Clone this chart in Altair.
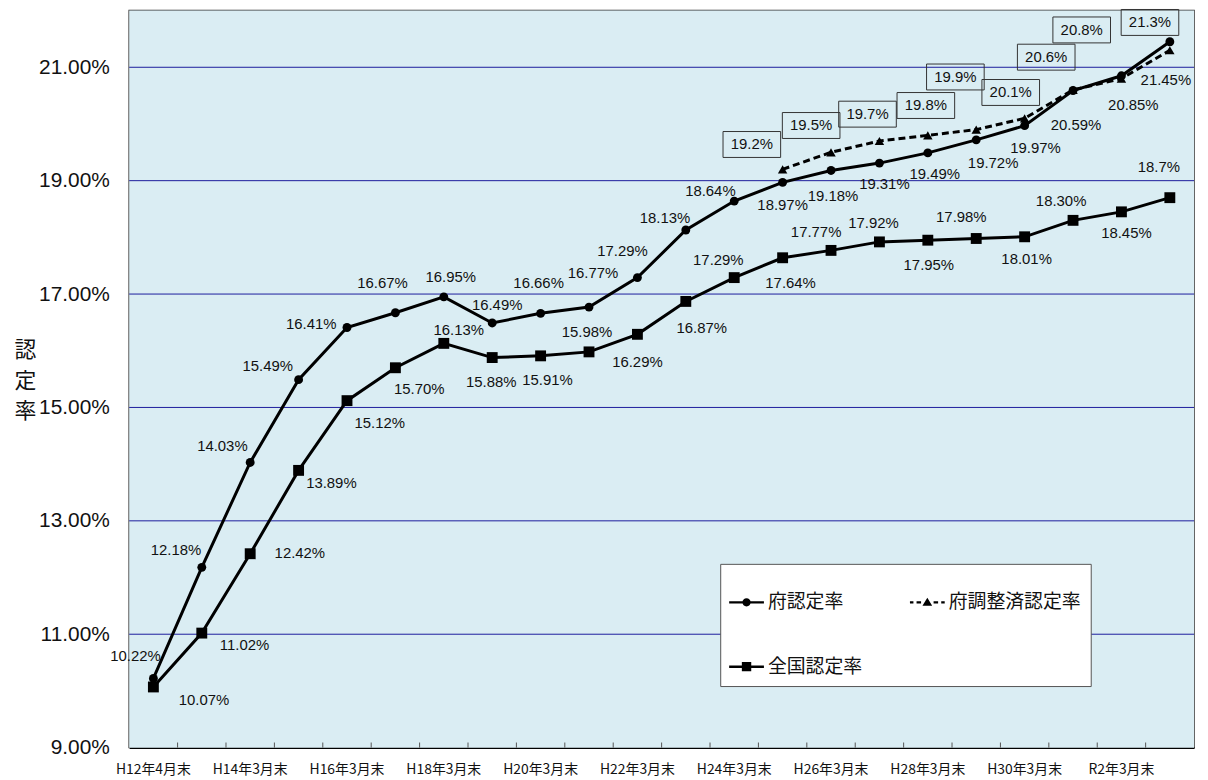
import altair as alt
import pandas as pd

# ---------------- data ----------------
categories = [
    "H12年4月末", "H13年3月末", "H14年3月末", "H15年3月末", "H16年3月末",
    "H17年3月末", "H18年3月末", "H19年3月末", "H20年3月末", "H21年3月末",
    "H22年3月末", "H23年3月末", "H24年3月末", "H25年3月末", "H26年3月末",
    "H27年3月末", "H28年3月末", "H29年3月末", "H30年3月末", "H31年3月末",
    "R2年3月末", "R3年3月末",
]
shown_labels = [
    "H12年4月末", "H14年3月末", "H16年3月末", "H18年3月末", "H20年3月末",
    "H22年3月末", "H24年3月末", "H26年3月末", "H28年3月末", "H30年3月末",
    "R2年3月末",
]
fu_rate = [10.22, 12.18, 14.03, 15.49, 16.41, 16.67, 16.95, 16.49, 16.66, 16.77,
           17.29, 18.13, 18.64, 18.97, 19.18, 19.31, 19.49, 19.72, 19.97, 20.59,
           20.85, 21.45]
fu_text = ["10.22%", "12.18%", "14.03%", "15.49%", "16.41%", "16.67%", "16.95%",
           "16.49%", "16.66%", "16.77%", "17.29%", "18.13%", "18.64%", "18.97%",
           "19.18%", "19.31%", "19.49%", "19.72%", "19.97%", "20.59%", "20.85%",
           "21.45%"]
zenkoku_rate = [10.07, 11.02, 12.42, 13.89, 15.12, 15.70, 16.13, 15.88, 15.91, 15.98,
                16.29, 16.87, 17.29, 17.64, 17.77, 17.92, 17.95, 17.98, 18.01, 18.30,
                18.45, 18.70]
zenkoku_text = ["10.07%", "11.02%", "12.42%", "13.89%", "15.12%", "15.70%", "16.13%",
                "15.88%", "15.91%", "15.98%", "16.29%", "16.87%", "17.29%", "17.64%",
                "17.77%", "17.92%", "17.95%", "17.98%", "18.01%", "18.30%", "18.45%",
                "18.7%"]
adj_categories = ["H25年3月末", "H26年3月末", "H27年3月末", "H28年3月末", "H29年3月末",
                  "H30年3月末", "H31年3月末", "R2年3月末", "R3年3月末"]
adj_rate = [19.2, 19.5, 19.7, 19.8, 19.9, 20.1, 20.6, 20.8, 21.3]
adj_text = ["19.2%", "19.5%", "19.7%", "19.8%", "19.9%", "20.1%", "20.6%", "20.8%", "21.3%"]

# legend order (column-major in the legend grid)
series_names = ["府認定率", "全国認定率", "府調整済認定率"]
y_ticks = [9, 11, 13, 15, 17, 19, 21]
grid_values = [11, 13, 15, 17, 19, 21]

# label placement (pixel offsets from each point)
fu_dx = [-18, -26, -28, -31, -36, -13, 7, 5, -2, 4, -15, -21, -24, 0, 2, 5, 7, 17, 11, 3, 12, -4]
fu_dy = [-23, -17, -17, -14, -3, -30, -20, -18, -31, -34, -27, -12, -10, 23, 26, 21, 21, 23, 23, 35, 29, 39]
zen_dx = [51, 43, 50, 33, 33, 24, 15, -1, 7, -2, 0, 16, -16, 8, -15, -6, 1, -15, 2, -12, 5, -11]
zen_dy = [13, 12, -1, 13, 23, 21, -13, 25, 24, -20, 28, 27, -18, 25, -18, -19, 25, -22, 22, -19, 21, -31]
adj_dx = [-31, -20, -12, -2, -21, -14, -27, -40, -20]
adj_dy = [-25, -27, -27, -30, -53, -26, -33, -49, -28]

fu_df = pd.DataFrame({"category": categories, "value": fu_rate, "label": fu_text,
                      "dx": fu_dx, "dy": fu_dy})
zen_df = pd.DataFrame({"category": categories, "value": zenkoku_rate, "label": zenkoku_text,
                       "dx": zen_dx, "dy": zen_dy})
adj_df = pd.DataFrame({"category": adj_categories, "value": adj_rate, "label": adj_text,
                       "dx": adj_dx, "dy": adj_dy})
tick_df = pd.DataFrame({"category": categories[1:]})
grid_df = pd.DataFrame({"value": grid_values})
legend_df = pd.DataFrame({"series": series_names})
bg_df = pd.DataFrame({"value": [9]})

PLOT_W = 1072
PLOT_H = 742
Y_MIN, Y_MAX = 9, 22
PX_PER_UNIT = PLOT_H / (Y_MAX - Y_MIN)
HALF_BAND = PLOT_W / len(categories) / 2

# ---------------- encodings ----------------
label_list = "[" + ",".join("'" + s + "'" for s in shown_labels) + "]"

x_axis = alt.Axis(
    title=None,
    labelAngle=0,
    labelOverlap=False,
    labelExpr=f"indexof({label_list}, datum.value) >= 0 ? datum.label : ''",
    labelFont="Noto Sans CJK JP",
    labelFontSize=14,
    labelColor="#111",
    labelPadding=15,
    ticks=False,
    domainColor="#000",
    domainWidth=2,
    grid=False,
)
x_scale = alt.Scale(type="band", paddingInner=0, paddingOuter=0)


def x_enc(**kw):
    return alt.X("category:N", sort=categories, scale=x_scale, axis=x_axis, **kw)


y_axis = alt.Axis(
    values=y_ticks,
    labelExpr="format(datum.value, '.2f') + '%'",
    labelFont="Liberation Sans",
    labelFontSize=21,
    labelColor="#111",
    labelPadding=20,
    ticks=False,
    domainColor="#333",
    domainWidth=1.5,
    grid=False,
    title=["認", "定", "率"],
    titleAngle=0,
    titleFont="Noto Sans CJK JP",
    titleFontSize=22,
    titleFontWeight="normal",
    titleColor="#111",
    titleLineHeight=31,
    titleAlign="center",
    titleBaseline="top",
    titleX=-105,
    titleY=331,
)
y_scale = alt.Scale(domain=[Y_MIN, Y_MAX], nice=False, zero=False)


def y_enc(field="value"):
    return alt.Y(f"{field}:Q", scale=y_scale, axis=y_axis)


# ---------------- layers ----------------
background = alt.Chart(bg_df).mark_rect(color="#DAEDF3", opacity=1).encode(
    x=alt.value(0), x2=alt.value(PLOT_W), y=alt.value(0), y2=alt.value(PLOT_H)
)

gridlines = alt.Chart(grid_df).mark_rule(color="#1c1c9c", strokeWidth=1).encode(
    y=y_enc(), x=alt.value(0), x2=alt.value(PLOT_W)
)


def line(df, **kw):
    return alt.Chart(df).mark_line(color="black", strokeWidth=3, **kw).encode(x=x_enc(), y=y_enc())


def points(df, shape, size):
    return alt.Chart(df).mark_point(shape=shape, filled=True, color="black", size=size,
                                    opacity=1).encode(x=x_enc(), y=y_enc())


ticks = alt.Chart(tick_df).mark_rule(color="#555", strokeWidth=1).encode(
    x=alt.X("category:N", sort=categories, bandPosition=0),
    y=alt.datum(9),
    y2=alt.datum(9.09),
)


def placed(df):
    # offsets measured from the point (band centre); xOffset counts from band start
    return alt.Chart(df).transform_calculate(
        ly=f"datum.value - datum.dy / {PX_PER_UNIT}",
        lx=f"datum.dx + {HALF_BAND}",
    )


def labels(df):
    return placed(df).mark_text(
        font="Liberation Sans", fontSize=15, color="#111", align="center", baseline="middle"
    ).encode(
        x=x_enc(),
        y=y_enc("ly"),
        xOffset=alt.XOffset("lx:Q", scale=None),
        text="label:N",
    )


boxes = placed(adj_df).mark_point(
    shape="M-1,-0.45H1V0.45H-1Z", size=3364, filled=False, stroke="#333", strokeWidth=1,
    opacity=1,
).encode(
    x=x_enc(),
    y=y_enc("ly"),
    xOffset=alt.XOffset("lx:Q", scale=None),
)

# legend symbols: filled pieces only (line segments as thin bars)
bar_l = "M-1,-0.07H-0.22V0.07H-1Z"
bar_r = "M0.22,-0.07H1V0.07H0.22Z"
sym_fu = bar_l + bar_r + "M-0.24,0A0.24,0.24 0 1,1 0.24,0A0.24,0.24 0 1,1 -0.24,0Z"
sym_zen = bar_l + bar_r + "M-0.27,-0.27H0.27V0.27H-0.27Z"
sym_adj = ("M-1,-0.07H-0.8V0.07H-1Z" "M-0.62,-0.07H-0.36V0.07H-0.62Z"
           "M0.36,-0.07H0.62V0.07H0.36Z" "M0.8,-0.07H1V0.07H0.8Z"
           "M-0.28,0.2L0,-0.27L0.28,0.2Z")

legend_layer = alt.Chart(legend_df).mark_point(
    filled=True, color="black", opacity=1
).encode(
    shape=alt.Shape(
        "series:N",
        scale=alt.Scale(domain=series_names, range=[sym_fu, sym_zen, sym_adj]),
        legend=alt.Legend(
            title=" ",
            titleFontSize=12,
            titlePadding=0,
            orient="none",
            legendX=595,
            legendY=557,
            columns=2,
            fillColor="white",
            strokeColor="#555",
            padding=9,
            labelFont="Noto Sans CJK JP",
            labelFontSize=19,
            labelColor="#111",
            labelLimit=300,
            labelOffset=4,
            symbolSize=1225,
            symbolFillColor="black",
            symbolStrokeColor="black",
            symbolStrokeWidth=0,
            rowPadding=37,
            columnPadding=47,
        ),
    )
).transform_filter("false")

chart = alt.layer(
    background, gridlines,
    line(fu_df), line(zen_df), line(adj_df, strokeDash=[7, 4]), ticks,
    points(fu_df, "circle", 80), points(zen_df, "square", 120), points(adj_df, "triangle-up", 90),
    labels(fu_df), labels(zen_df), boxes, labels(adj_df), legend_layer,
).properties(
    width=PLOT_W,
    height=PLOT_H,
    autosize=alt.AutoSizeParams(type="none"),
    padding={"left": 122, "top": 0, "right": 6, "bottom": 30},
    background="white",
).configure_view(
    fill="#DAEDF3", stroke="#333", strokeWidth=1.5
)

chart.save("out.html", embed_options={"renderer": "svg", "actions": False})
